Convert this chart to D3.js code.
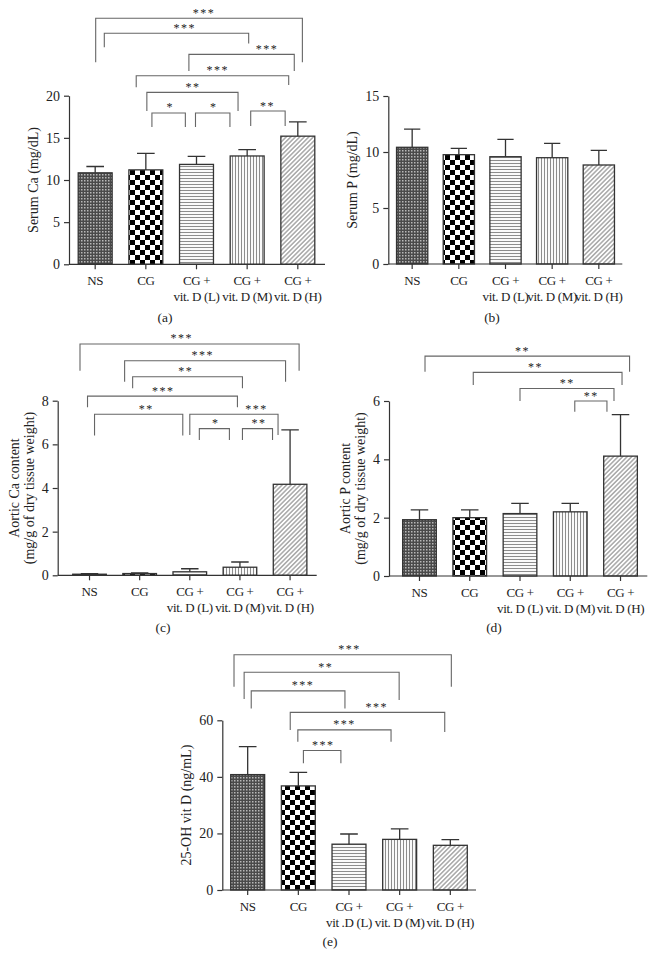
<!DOCTYPE html>
<html>
<head>
<meta charset="utf-8">
<script src="https://cdn.jsdelivr.net/npm/d3@7"></script>
<style>
  body { margin: 0; background: #fff; }
  svg text { font-family: "Liberation Serif", "Times New Roman", serif; fill: #222; }
</style>
</head>
<body>
<div id="chart"></div>
<script>
// groups (two-line labels)
const groupLabels = [["NS"], ["CG"], ["CG +", "vit. D (L)"], ["CG +", "vit. D (M)"], ["CG +", "vit. D (H)"]];
const groupLabelsE = [["NS"], ["CG"], ["CG +", "vit .D (L)"], ["CG +", "vit. D (M)"], ["CG +", "vit. D (H)"]];
const patternIds = ["pNS", "pCG", "pL", "pM", "pH"];

// (a) serum Ca
const serumCaMean = [10.85, 11.2, 11.85, 12.85, 15.2];
const serumCaSD = [0.75, 1.95, 0.95, 0.75, 1.7];
const serumCaTicks = [0, 5, 10, 15, 20];
// (b) serum P
const serumPMean = [10.42, 9.76, 9.58, 9.49, 8.84];
const serumPSD = [1.63, 0.57, 1.55, 1.28, 1.31];
const serumPTicks = [0, 5, 10, 15];
// (c) aortic Ca
const aorticCaMean = [0.05, 0.08, 0.16, 0.37, 4.17];
const aorticCaSD = [0.03, 0.03, 0.14, 0.24, 2.49];
const aorticCaTicks = [0, 2, 4, 6, 8];
// (d) aortic P
const aorticPMean = [1.93, 2.0, 2.14, 2.2, 4.11];
const aorticPSD = [0.34, 0.27, 0.35, 0.29, 1.42];
const aorticPTicks = [0, 2, 4, 6];
// (e) 25-OH vit D
const vitDMean = [40.8, 36.8, 16.2, 17.9, 15.8];
const vitDSD = [9.9, 4.8, 3.6, 3.7, 2.0];
const vitDTicks = [0, 20, 40, 60];

// significance brackets: [from idx, to idx, line value, left leg end, right leg end, label idx, label]
const sigA = [
  [0.01, 4.09, 29.18, 23.96, 23.96, 2.15, "***"],
  [0.18, 3.03, 27.4, 25.74, 26.2, 1.77, "***"],
  [1.85, 3.93, 24.9, 22.93, 22.93, 3.39, "***"],
  [0.81, 3.82, 22.37, 21.0, 21.27, 2.42, "***"],
  [1.02, 2.82, 20.4, 18.18, 18.18, 1.93, "**"],
  [1.12, 1.78, 17.95, 16.29, 16.29, 1.48, "*"],
  [1.98, 2.66, 17.95, 16.29, 16.29, 2.34, "*"],
  [3.07, 3.75, 18.18, 16.4, 16.4, 3.40, "**"]
];
const sigC = [
  [-0.19, 4.18, 10.6, 9.37, 9.37, 1.84, "***"],
  [0.70, 3.91, 9.83, 8.87, 8.87, 2.26, "***"],
  [0.86, 3.05, 9.10, 8.57, 8.57, 1.92, "**"],
  [-0.04, 2.95, 8.21, 7.70, 7.70, 1.47, "***"],
  [0.10, 1.86, 7.38, 6.40, 6.40, 1.13, "**"],
  [2.0, 3.76, 7.38, 6.43, 6.43, 3.33, "***"],
  [2.19, 2.79, 6.72, 6.2, 6.2, 2.52, "*"],
  [3.05, 3.65, 6.72, 6.2, 6.2, 3.38, "**"]
];
const sigD = [
  [0.11, 4.18, 7.54, 7.0, 7.0, 2.05, "**"],
  [1.07, 4.03, 6.98, 6.55, 6.55, 2.31, "**"],
  [2.0, 3.87, 6.43, 6.0, 6.0, 2.94, "**"],
  [3.09, 3.73, 6.0, 5.63, 5.63, 3.42, "**"]
];
const sigE = [
  [-0.27, 4.02, 83.2, 71.9, 71.9, 2.01, "***"],
  [-0.07, 2.99, 77.0, 67.5, 67.2, 1.54, "**"],
  [0.07, 1.92, 70.4, 64.2, 64.2, 1.09, "***"],
  [0.84, 3.89, 62.8, 56.6, 55.9, 2.55, "***"],
  [0.99, 2.83, 56.6, 52.4, 52.4, 1.91, "***"],
  [1.10, 1.84, 49.3, 44.8, 44.8, 1.49, "***"]
];

const panels = [
  {tag: "(a)", mean: serumCaMean, sd: serumCaSD, ticks: serumCaTicks, sig: sigA, labels: groupLabels,
   title: ["Serum Ca (mg/dL)"], axisX: 69, top: 95.7, bottom: 264.3, xr: [69.6, 323.4], axisEnd: 325, tagPos: [165, 322]},
  {tag: "(b)", mean: serumPMean, sd: serumPSD, ticks: serumPTicks, sig: [], labels: groupLabels,
   title: ["Serum P (mg/dL)"], axisX: 388.3, top: 96, bottom: 264, xr: [388.6, 622.4], axisEnd: 622.3, tagPos: [492, 322]},
  {tag: "(c)", mean: aorticCaMean, sd: aorticCaSD, ticks: aorticCaTicks, sig: sigC, labels: groupLabels,
   title: ["Aortic Ca content", "(mg/g of dry tissue weight)"], axisX: 57.7, top: 400.7, bottom: 575.3, xr: [64.2, 315.4], axisEnd: 316.7, tagPos: [163, 632]},
  {tag: "(d)", mean: aorticPMean, sd: aorticPSD, ticks: aorticPTicks, sig: sigD, labels: groupLabels,
   title: ["Aortic P content", "(mg/g of dry tissue weight)"], axisX: 389, top: 401, bottom: 576, xr: [394.1, 645.9], axisEnd: 647.3, tagPos: [494, 632]},
  {tag: "(e)", mean: vitDMean, sd: vitDSD, ticks: vitDTicks, sig: sigE, labels: groupLabelsE,
   title: ["25-OH vit D (ng/mL)"], axisX: 222.3, top: 720.3, bottom: 890, xr: [222.1, 475.9], axisEnd: 476, tagPos: [330, 946]}
];

const svg = d3.select("#chart").append("svg")
  .attr("width", 660).attr("height", 956)
  .attr("viewBox", "0 0 660 956");

// fill patterns
const defs = svg.append("defs");
const pNS = defs.append("pattern").attr("id", "pNS").attr("patternUnits", "userSpaceOnUse").attr("width", 3).attr("height", 3);
pNS.append("rect").attr("width", 3).attr("height", 3).attr("fill", "#4a4a4a");
pNS.append("rect").attr("width", 1.5).attr("height", 1.5).attr("fill", "#b8b8b8");

const pCG = defs.append("pattern").attr("id", "pCG").attr("patternUnits", "userSpaceOnUse").attr("width", 10).attr("height", 10);
pCG.append("rect").attr("width", 10).attr("height", 10).attr("fill", "#fff");
pCG.append("rect").attr("width", 5).attr("height", 5).attr("fill", "#000");
pCG.append("rect").attr("x", 5).attr("y", 5).attr("width", 5).attr("height", 5).attr("fill", "#000");

const pL = defs.append("pattern").attr("id", "pL").attr("patternUnits", "userSpaceOnUse").attr("width", 3).attr("height", 3);
pL.append("rect").attr("width", 3).attr("height", 3).attr("fill", "#fff");
pL.append("line").attr("x1", 0).attr("x2", 3).attr("y1", 1.5).attr("y2", 1.5).attr("stroke", "#8c8c8c").attr("stroke-width", 1.1);

const pM = defs.append("pattern").attr("id", "pM").attr("patternUnits", "userSpaceOnUse").attr("width", 3).attr("height", 3);
pM.append("rect").attr("width", 3).attr("height", 3).attr("fill", "#fff");
pM.append("line").attr("y1", 0).attr("y2", 3).attr("x1", 1.5).attr("x2", 1.5).attr("stroke", "#8c8c8c").attr("stroke-width", 1.1);

const pH = defs.append("pattern").attr("id", "pH").attr("patternUnits", "userSpaceOnUse").attr("width", 3.2).attr("height", 3.2)
  .attr("patternTransform", "rotate(45)");
pH.append("rect").attr("width", 3.2).attr("height", 3.2).attr("fill", "#fff");
pH.append("line").attr("y1", 0).attr("y2", 3.2).attr("x1", 1.6).attr("x2", 1.6).attr("stroke", "#888").attr("stroke-width", 1.1);

const ink = "#333";

drawPanel = (p) => {
  const g = svg.append("g");
  const idx = d3.range(p.mean.length);

  const x = d3.scaleBand()
    .domain(idx)
    .range(p.xr)
    .paddingInner(0.33)
    .paddingOuter(0.17);

  const y = d3.scaleLinear()
    .domain([0, d3.max(p.ticks)])
    .range([p.bottom, p.top]);

  // fractional group index -> px (for brackets)
  const xf = (i) => x(0) + x.bandwidth() / 2 + i * x.step();

  // bars
  g.selectAll("rect.bar")
    .data(idx)
    .join("rect")
      .attr("class", "bar")
      .attr("x", d => x(d))
      .attr("width", x.bandwidth())
      .attr("y", d => y(p.mean[d]))
      .attr("height", d => y(0) - y(p.mean[d]))
      .attr("fill", d => `url(#${patternIds[d]})`)
      .attr("stroke", ink)
      .attr("stroke-width", 1.3);

  // error bars (upper only)
  const cap = x.bandwidth() * 0.26;
  g.selectAll("path.err")
    .data(idx)
    .join("path")
      .attr("class", "err")
      .attr("fill", "none")
      .attr("stroke", ink)
      .attr("stroke-width", 1.3)
      .attr("d", d => {
        const cx = x(d) + x.bandwidth() / 2;
        const y0 = y(p.mean[d]), y1 = y(p.mean[d] + p.sd[d]);
        return `M${cx},${y0}V${y1}M${cx - cap},${y1}H${cx + cap}`;
      });

  // Y axis
  const ya = g.append("g")
    .attr("transform", `translate(${p.axisX},0)`)
    .call(d3.axisLeft(y).tickValues(p.ticks).tickFormat(d3.format("d"))
      .tickSize(5).tickSizeOuter(0).tickPadding(4));
  ya.select(".domain").attr("stroke", ink).attr("stroke-width", 1.2);
  ya.selectAll(".tick line").attr("stroke", ink).attr("stroke-width", 1.2);
  ya.selectAll(".tick text").attr("font-size", 14).attr("fill", "#222")
    .style("font-family", '"Liberation Serif", "Times New Roman", serif');

  // X axis
  g.append("line")
    .attr("x1", p.axisX).attr("x2", p.axisEnd)
    .attr("y1", y(0)).attr("y2", y(0))
    .attr("stroke", ink).attr("stroke-width", 1.2);
  const xa = g.append("g")
    .attr("transform", `translate(0,${y(0)})`)
    .call(d3.axisBottom(x).tickSize(5).tickFormat(""));
  xa.select(".domain").remove();
  xa.selectAll(".tick line").attr("stroke", ink).attr("stroke-width", 1.2);

  // category labels
  idx.forEach(d => {
    const t = g.append("text")
      .attr("text-anchor", "middle")
      .attr("font-size", 13)
      .attr("letter-spacing", -0.35)
      .attr("x", x(d) + x.bandwidth() / 2)
      .attr("y", y(0) + 21);
    p.labels[d].forEach((s, k) => {
      t.append("tspan")
        .attr("x", x(d) + x.bandwidth() / 2)
        .attr("dy", k === 0 ? 0 : 15.5)
        .text(s);
    });
  });

  // Y axis title
  const midY = (p.top + p.bottom) / 2;
  const offs = p.title.length === 1 ? [36] : [44, 28.5];
  p.title.forEach((s, k) => {
    g.append("text")
      .attr("text-anchor", "middle")
      .attr("font-size", 14)
      .attr("dy", "0.35em")
      .attr("transform", `translate(${p.axisX - offs[k]},${midY}) rotate(-90)`)
      .text(s);
  });

  // significance brackets
  p.sig.forEach(s => {
    const [a, b, lv, la, lb, lx, lab] = s;
    g.append("path")
      .attr("fill", "none")
      .attr("stroke", "#666")
      .attr("stroke-width", 1.1)
      .attr("d", `M${xf(a)},${y(la)}V${y(lv)}H${xf(b)}V${y(lb)}`);
    g.append("text")
      .attr("text-anchor", "middle")
      .attr("font-size", 12)
      .attr("letter-spacing", 1.5)
      .attr("fill", "#555")
      .attr("x", xf(lx))
      .attr("y", y(lv) - 1.5)
      .text(lab);
  });

  // panel tag
  g.append("text")
    .attr("text-anchor", "middle")
    .attr("font-size", 13.5)
    .attr("x", p.tagPos[0])
    .attr("y", p.tagPos[1])
    .text(p.tag);
}

panels.forEach(drawPanel);
</script>
</body>
</html>
